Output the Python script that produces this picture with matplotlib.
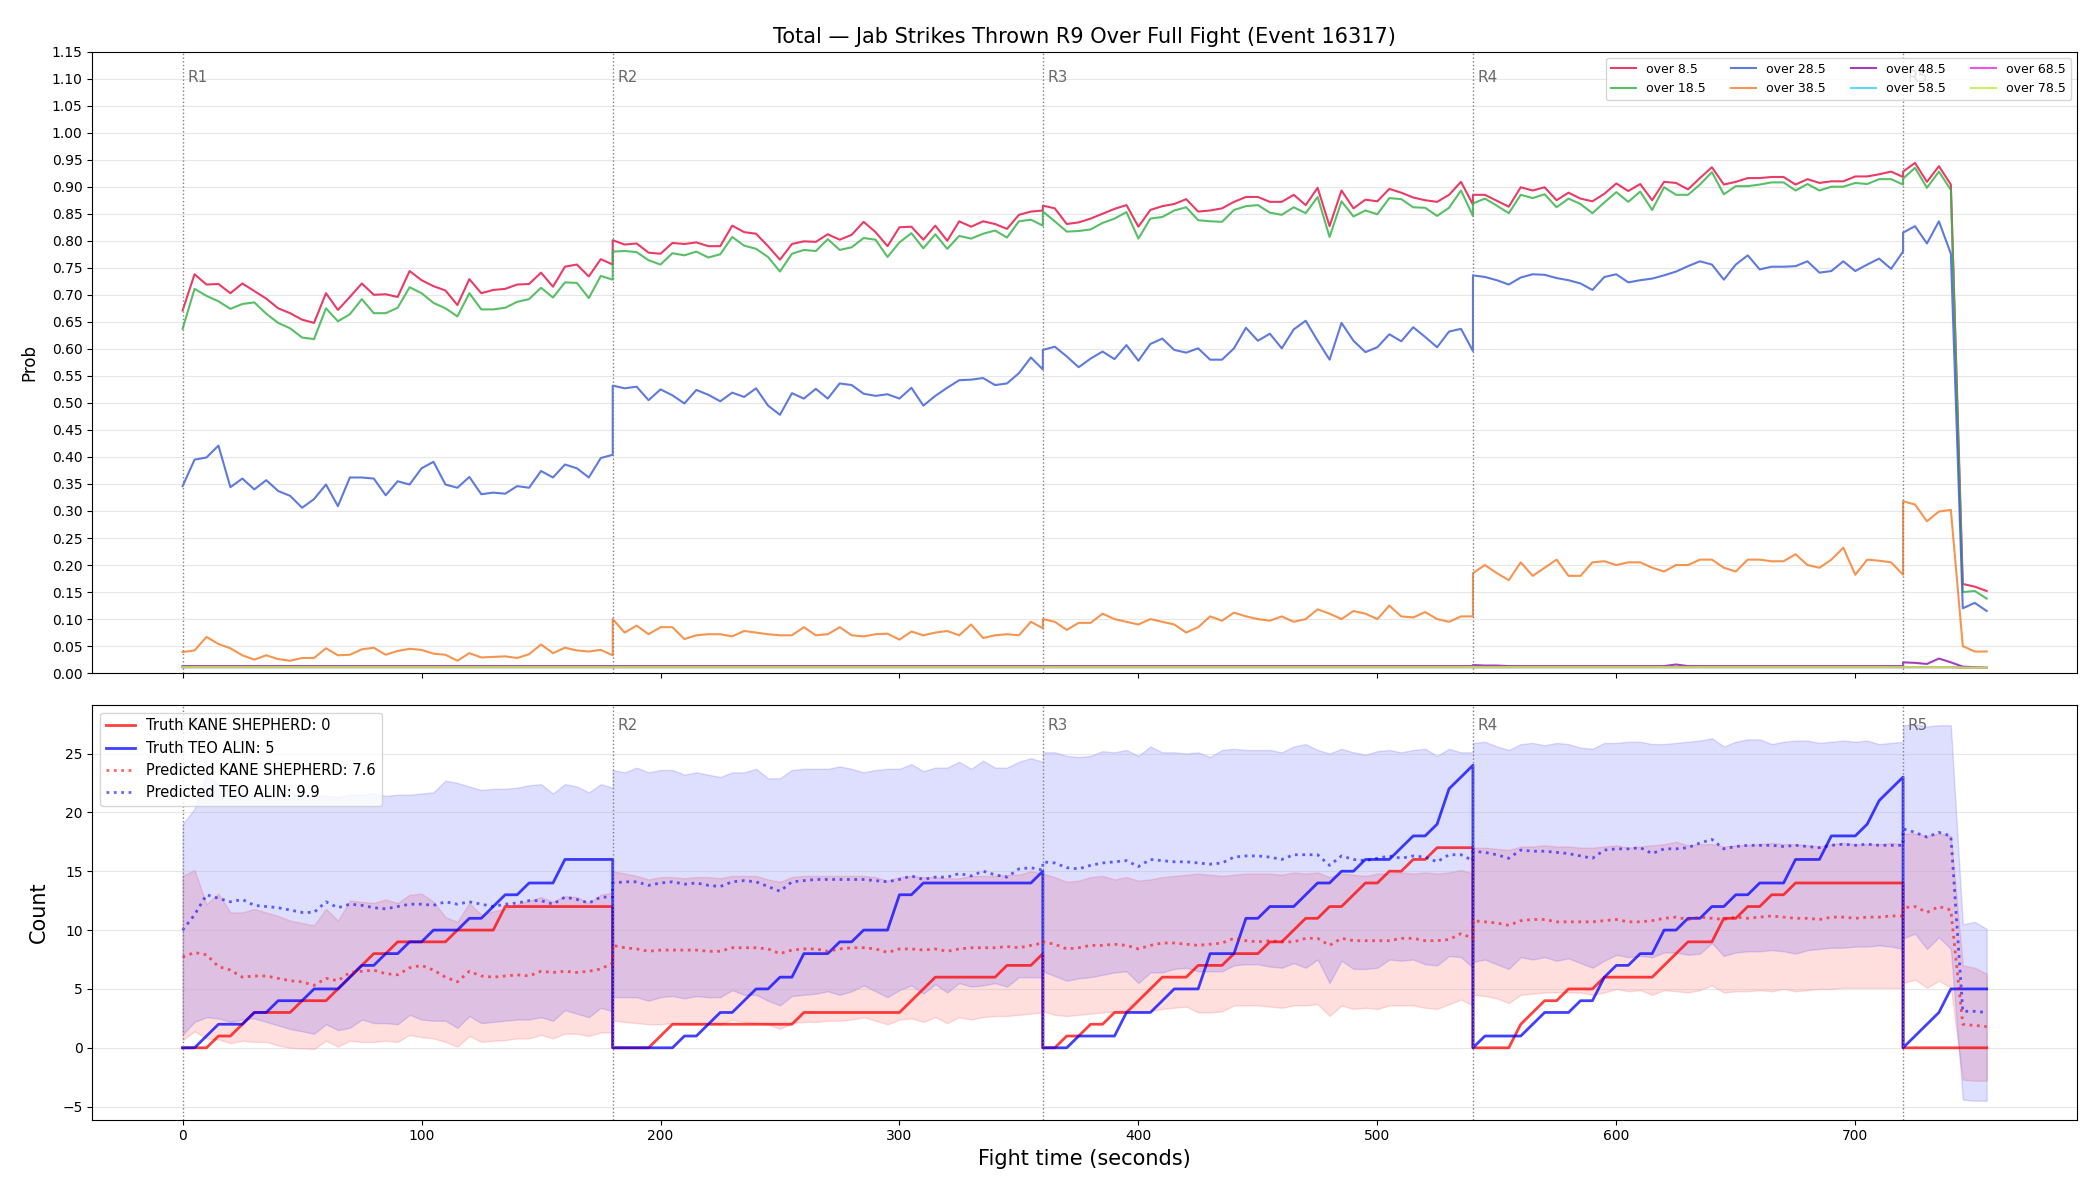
import numpy as np
import matplotlib.pyplot as plt
from matplotlib.transforms import blended_transform_factory

# samples every 5 s, each round restarts at its boundary (duplicate x at boundaries)
round_starts = [0, 180, 360, 540, 720]
round_samples = [37, 37, 37, 37, 8]
round_names = ["R1", "R2", "R3", "R4", "R5"]

# ---- top panel: P(over line) per round ----
over_8_5 = [
    [0.671, 0.738, 0.719, 0.720, 0.703, 0.721, 0.707, 0.693, 0.675, 0.666, 0.654, 0.648, 0.703,
     0.672, 0.696, 0.721, 0.700, 0.701, 0.696, 0.744, 0.727, 0.716, 0.708, 0.681, 0.729, 0.703,
     0.709, 0.711, 0.719, 0.720, 0.741, 0.715, 0.752, 0.756, 0.734, 0.766, 0.756],
    [0.801, 0.793, 0.795, 0.778, 0.776, 0.796, 0.794, 0.797, 0.790, 0.790, 0.828, 0.816, 0.813,
     0.790, 0.765, 0.794, 0.799, 0.798, 0.812, 0.802, 0.811, 0.835, 0.816, 0.790, 0.825, 0.826,
     0.802, 0.828, 0.800, 0.836, 0.826, 0.836, 0.831, 0.822, 0.848, 0.854, 0.856],
    [0.865, 0.860, 0.831, 0.834, 0.841, 0.850, 0.859, 0.866, 0.826, 0.857, 0.864, 0.868, 0.877,
     0.854, 0.856, 0.860, 0.872, 0.881, 0.881, 0.872, 0.872, 0.885, 0.866, 0.898, 0.827, 0.893,
     0.860, 0.876, 0.873, 0.896, 0.889, 0.880, 0.875, 0.872, 0.885, 0.909, 0.867],
    [0.885, 0.885, 0.874, 0.863, 0.899, 0.893, 0.899, 0.875, 0.889, 0.878, 0.873, 0.887, 0.906,
     0.892, 0.905, 0.875, 0.909, 0.907, 0.895, 0.916, 0.936, 0.904, 0.909, 0.916, 0.916, 0.918,
     0.918, 0.904, 0.914, 0.907, 0.910, 0.910, 0.919, 0.919, 0.923, 0.928, 0.918],
    [0.928, 0.944, 0.909, 0.938, 0.904, 0.165, 0.160, 0.152],
]
over_18_5 = [
    [0.637, 0.711, 0.698, 0.688, 0.674, 0.683, 0.686, 0.665, 0.648, 0.638, 0.621, 0.618, 0.675,
     0.651, 0.664, 0.692, 0.666, 0.666, 0.676, 0.714, 0.703, 0.685, 0.675, 0.660, 0.703, 0.673,
     0.673, 0.676, 0.687, 0.692, 0.713, 0.695, 0.723, 0.722, 0.694, 0.735, 0.728],
    [0.780, 0.781, 0.779, 0.764, 0.756, 0.777, 0.773, 0.780, 0.769, 0.775, 0.807, 0.791, 0.785,
     0.770, 0.743, 0.776, 0.783, 0.781, 0.803, 0.783, 0.788, 0.805, 0.802, 0.770, 0.797, 0.814,
     0.786, 0.812, 0.785, 0.809, 0.804, 0.813, 0.819, 0.806, 0.836, 0.839, 0.828],
    [0.854, 0.836, 0.817, 0.818, 0.821, 0.833, 0.841, 0.853, 0.804, 0.841, 0.844, 0.856, 0.862,
     0.838, 0.836, 0.835, 0.857, 0.864, 0.866, 0.852, 0.848, 0.862, 0.851, 0.881, 0.807, 0.873,
     0.845, 0.856, 0.849, 0.879, 0.877, 0.862, 0.861, 0.846, 0.861, 0.893, 0.846],
    [0.869, 0.878, 0.865, 0.851, 0.885, 0.879, 0.886, 0.862, 0.878, 0.868, 0.851, 0.871, 0.890,
     0.872, 0.891, 0.857, 0.899, 0.885, 0.885, 0.904, 0.927, 0.886, 0.901, 0.901, 0.904, 0.908,
     0.908, 0.893, 0.905, 0.893, 0.900, 0.900, 0.907, 0.905, 0.914, 0.914, 0.904],
    [0.915, 0.935, 0.898, 0.928, 0.894, 0.150, 0.152, 0.138],
]
over_28_5 = [
    [0.346, 0.395, 0.399, 0.421, 0.344, 0.360, 0.340, 0.357, 0.337, 0.328, 0.306, 0.322, 0.349,
     0.309, 0.362, 0.362, 0.360, 0.329, 0.355, 0.349, 0.379, 0.391, 0.349, 0.343, 0.363, 0.331,
     0.334, 0.332, 0.346, 0.343, 0.374, 0.362, 0.386, 0.379, 0.362, 0.398, 0.404],
    [0.532, 0.527, 0.530, 0.505, 0.525, 0.514, 0.499, 0.524, 0.515, 0.503, 0.519, 0.511, 0.527,
     0.495, 0.478, 0.518, 0.508, 0.526, 0.508, 0.536, 0.533, 0.517, 0.513, 0.516, 0.508, 0.528,
     0.495, 0.513, 0.528, 0.542, 0.543, 0.546, 0.533, 0.536, 0.555, 0.584, 0.562],
    [0.598, 0.604, 0.586, 0.566, 0.582, 0.595, 0.581, 0.607, 0.578, 0.609, 0.619, 0.598, 0.593,
     0.601, 0.580, 0.580, 0.601, 0.639, 0.615, 0.628, 0.601, 0.636, 0.652, 0.615, 0.580, 0.648,
     0.615, 0.594, 0.603, 0.627, 0.614, 0.640, 0.622, 0.603, 0.632, 0.637, 0.596],
    [0.736, 0.733, 0.727, 0.719, 0.732, 0.738, 0.737, 0.731, 0.727, 0.721, 0.709, 0.733, 0.738,
     0.723, 0.727, 0.730, 0.736, 0.743, 0.753, 0.762, 0.756, 0.728, 0.756, 0.773, 0.747, 0.752,
     0.752, 0.753, 0.762, 0.741, 0.744, 0.762, 0.744, 0.756, 0.767, 0.748, 0.780],
    [0.815, 0.827, 0.795, 0.836, 0.776, 0.120, 0.130, 0.115],
]
over_38_5 = [
    [0.039, 0.042, 0.067, 0.054, 0.046, 0.033, 0.025, 0.033, 0.026, 0.023, 0.028, 0.028, 0.046,
     0.033, 0.034, 0.044, 0.047, 0.034, 0.041, 0.045, 0.043, 0.036, 0.034, 0.023, 0.037, 0.029,
     0.030, 0.031, 0.028, 0.035, 0.053, 0.037, 0.047, 0.042, 0.040, 0.043, 0.033],
    [0.100, 0.075, 0.088, 0.072, 0.085, 0.085, 0.063, 0.070, 0.072, 0.072, 0.068, 0.078, 0.075,
     0.072, 0.070, 0.070, 0.085, 0.070, 0.072, 0.085, 0.070, 0.068, 0.072, 0.073, 0.062, 0.077,
     0.070, 0.075, 0.078, 0.070, 0.090, 0.065, 0.070, 0.072, 0.070, 0.095, 0.083],
    [0.100, 0.095, 0.080, 0.093, 0.093, 0.110, 0.100, 0.095, 0.090, 0.100, 0.095, 0.090, 0.075,
     0.085, 0.105, 0.097, 0.112, 0.105, 0.100, 0.097, 0.105, 0.095, 0.100, 0.118, 0.110, 0.100,
     0.115, 0.110, 0.100, 0.125, 0.105, 0.103, 0.113, 0.100, 0.095, 0.105, 0.105],
    [0.185, 0.200, 0.185, 0.172, 0.205, 0.180, 0.195, 0.210, 0.180, 0.180, 0.205, 0.207, 0.200,
     0.205, 0.205, 0.195, 0.188, 0.200, 0.200, 0.210, 0.210, 0.195, 0.188, 0.210, 0.210, 0.207,
     0.207, 0.220, 0.200, 0.195, 0.210, 0.232, 0.182, 0.210, 0.208, 0.205, 0.182],
    [0.318, 0.312, 0.281, 0.299, 0.302, 0.050, 0.040, 0.040],
]
over_48_5 = [
    [0.013, 0.013, 0.013, 0.013, 0.013, 0.013, 0.013, 0.013, 0.013, 0.013, 0.013, 0.013, 0.013,
     0.013, 0.013, 0.013, 0.013, 0.013, 0.013, 0.013, 0.013, 0.013, 0.013, 0.013, 0.013, 0.013,
     0.013, 0.013, 0.013, 0.013, 0.013, 0.013, 0.013, 0.013, 0.013, 0.013, 0.013],
    [0.013, 0.013, 0.013, 0.013, 0.013, 0.013, 0.013, 0.013, 0.013, 0.013, 0.013, 0.013, 0.013,
     0.013, 0.013, 0.013, 0.013, 0.013, 0.013, 0.013, 0.013, 0.013, 0.013, 0.013, 0.013, 0.013,
     0.013, 0.013, 0.013, 0.013, 0.013, 0.013, 0.013, 0.013, 0.013, 0.013, 0.013],
    [0.013, 0.013, 0.013, 0.013, 0.013, 0.013, 0.013, 0.013, 0.013, 0.013, 0.013, 0.013, 0.013,
     0.013, 0.013, 0.013, 0.013, 0.013, 0.013, 0.013, 0.013, 0.013, 0.013, 0.013, 0.013, 0.013,
     0.013, 0.013, 0.013, 0.013, 0.013, 0.013, 0.013, 0.013, 0.013, 0.013, 0.013],
    [0.015, 0.014, 0.014, 0.013, 0.013, 0.013, 0.013, 0.013, 0.013, 0.013, 0.013, 0.013, 0.013,
     0.013, 0.013, 0.013, 0.013, 0.016, 0.013, 0.013, 0.013, 0.013, 0.013, 0.013, 0.013, 0.013,
     0.013, 0.013, 0.013, 0.013, 0.013, 0.013, 0.013, 0.013, 0.013, 0.013, 0.013],
    [0.020, 0.019, 0.017, 0.027, 0.020, 0.012, 0.011, 0.010],
]
over_58_5 = [
    [0.011, 0.011, 0.011, 0.011, 0.011, 0.011, 0.011, 0.011, 0.011, 0.011, 0.011, 0.011, 0.011,
     0.011, 0.011, 0.011, 0.011, 0.011, 0.011, 0.011, 0.011, 0.011, 0.011, 0.011, 0.011, 0.011,
     0.011, 0.011, 0.011, 0.011, 0.011, 0.011, 0.011, 0.011, 0.011, 0.011, 0.011],
    [0.011, 0.011, 0.011, 0.011, 0.011, 0.011, 0.011, 0.011, 0.011, 0.011, 0.011, 0.011, 0.011,
     0.011, 0.011, 0.011, 0.011, 0.011, 0.011, 0.011, 0.011, 0.011, 0.011, 0.011, 0.011, 0.011,
     0.011, 0.011, 0.011, 0.011, 0.011, 0.011, 0.011, 0.011, 0.011, 0.011, 0.011],
    [0.011, 0.011, 0.011, 0.011, 0.011, 0.011, 0.011, 0.011, 0.011, 0.011, 0.011, 0.011, 0.011,
     0.011, 0.011, 0.011, 0.011, 0.011, 0.011, 0.011, 0.011, 0.011, 0.011, 0.011, 0.011, 0.011,
     0.011, 0.011, 0.011, 0.011, 0.011, 0.011, 0.011, 0.011, 0.011, 0.011, 0.011],
    [0.011, 0.011, 0.011, 0.011, 0.011, 0.011, 0.011, 0.011, 0.011, 0.011, 0.011, 0.011, 0.011,
     0.011, 0.011, 0.011, 0.011, 0.011, 0.011, 0.011, 0.011, 0.011, 0.011, 0.011, 0.011, 0.011,
     0.011, 0.011, 0.011, 0.011, 0.011, 0.011, 0.011, 0.011, 0.011, 0.011, 0.011],
    [0.011, 0.011, 0.011, 0.011, 0.011, 0.010, 0.010, 0.010],
]
over_68_5 = [
    [0.011, 0.011, 0.011, 0.011, 0.011, 0.011, 0.011, 0.011, 0.011, 0.011, 0.011, 0.011, 0.011,
     0.011, 0.011, 0.011, 0.011, 0.011, 0.011, 0.011, 0.011, 0.011, 0.011, 0.011, 0.011, 0.011,
     0.011, 0.011, 0.011, 0.011, 0.011, 0.011, 0.011, 0.011, 0.011, 0.011, 0.011],
    [0.011, 0.011, 0.011, 0.011, 0.011, 0.011, 0.011, 0.011, 0.011, 0.011, 0.011, 0.011, 0.011,
     0.011, 0.011, 0.011, 0.011, 0.011, 0.011, 0.011, 0.011, 0.011, 0.011, 0.011, 0.011, 0.011,
     0.011, 0.011, 0.011, 0.011, 0.011, 0.011, 0.011, 0.011, 0.011, 0.011, 0.011],
    [0.011, 0.011, 0.011, 0.011, 0.011, 0.011, 0.011, 0.011, 0.011, 0.011, 0.011, 0.011, 0.011,
     0.011, 0.011, 0.011, 0.011, 0.011, 0.011, 0.011, 0.011, 0.011, 0.011, 0.011, 0.011, 0.011,
     0.011, 0.011, 0.011, 0.011, 0.011, 0.011, 0.011, 0.011, 0.011, 0.011, 0.011],
    [0.011, 0.011, 0.011, 0.011, 0.011, 0.011, 0.011, 0.011, 0.011, 0.011, 0.011, 0.011, 0.011,
     0.011, 0.011, 0.011, 0.011, 0.011, 0.011, 0.011, 0.011, 0.011, 0.011, 0.011, 0.011, 0.011,
     0.011, 0.011, 0.011, 0.011, 0.011, 0.011, 0.011, 0.011, 0.011, 0.011, 0.011],
    [0.011, 0.011, 0.011, 0.011, 0.011, 0.010, 0.010, 0.010],
]
over_78_5 = [
    [0.011, 0.011, 0.011, 0.011, 0.011, 0.011, 0.011, 0.011, 0.011, 0.011, 0.011, 0.011, 0.011,
     0.011, 0.011, 0.011, 0.011, 0.011, 0.011, 0.011, 0.011, 0.011, 0.011, 0.011, 0.011, 0.011,
     0.011, 0.011, 0.011, 0.011, 0.011, 0.011, 0.011, 0.011, 0.011, 0.011, 0.011],
    [0.011, 0.011, 0.011, 0.011, 0.011, 0.011, 0.011, 0.011, 0.011, 0.011, 0.011, 0.011, 0.011,
     0.011, 0.011, 0.011, 0.011, 0.011, 0.011, 0.011, 0.011, 0.011, 0.011, 0.011, 0.011, 0.011,
     0.011, 0.011, 0.011, 0.011, 0.011, 0.011, 0.011, 0.011, 0.011, 0.011, 0.011],
    [0.011, 0.011, 0.011, 0.011, 0.011, 0.011, 0.011, 0.011, 0.011, 0.011, 0.011, 0.011, 0.011,
     0.011, 0.011, 0.011, 0.011, 0.011, 0.011, 0.011, 0.011, 0.011, 0.011, 0.011, 0.011, 0.011,
     0.011, 0.011, 0.011, 0.011, 0.011, 0.011, 0.011, 0.011, 0.011, 0.011, 0.011],
    [0.011, 0.011, 0.011, 0.011, 0.011, 0.011, 0.011, 0.011, 0.011, 0.011, 0.011, 0.011, 0.011,
     0.011, 0.011, 0.011, 0.011, 0.011, 0.011, 0.011, 0.011, 0.011, 0.011, 0.011, 0.011, 0.011,
     0.011, 0.011, 0.011, 0.011, 0.011, 0.011, 0.011, 0.011, 0.011, 0.011, 0.011],
    [0.011, 0.011, 0.011, 0.011, 0.011, 0.010, 0.010, 0.010],
]

line_labels = ["over 8.5", "over 18.5", "over 28.5", "over 38.5",
               "over 48.5", "over 58.5", "over 68.5", "over 78.5"]
line_colors = ["#e6194b", "#3cb44b", "#4363d8", "#f58231",
               "#911eb4", "#42d4f4", "#f032e6", "#bfef45"]

# ---- bottom panel: cumulative counts per round ----
truth_kane = [
    [0, 0, 0, 1, 1, 2, 3, 3, 3, 3, 4, 4, 4, 5, 6, 7, 8, 8, 9, 9, 9, 9, 9, 10, 10, 10, 10,
     12, 12, 12, 12, 12, 12, 12, 12, 12, 12],
    [0, 0, 0, 0, 1, 2, 2, 2, 2, 2, 2, 2, 2, 2, 2, 2, 3, 3, 3, 3, 3, 3, 3, 3, 3, 4, 5, 6,
     6, 6, 6, 6, 6, 7, 7, 7, 8],
    [0, 0, 1, 1, 2, 2, 3, 3, 4, 5, 6, 6, 6, 7, 7, 7, 8, 8, 8, 9, 9, 10, 11, 11, 12, 12, 13,
     14, 14, 15, 15, 16, 16, 17, 17, 17, 17],
    [0, 0, 0, 0, 2, 3, 4, 4, 5, 5, 5, 6, 6, 6, 6, 6, 7, 8, 9, 9, 9, 11, 11, 12, 12, 13, 13,
     14, 14, 14, 14, 14, 14, 14, 14, 14, 14],
    [0, 0, 0, 0, 0, 0, 0, 0],
]
truth_teo = [
    [0, 0, 1, 2, 2, 2, 3, 3, 4, 4, 4, 5, 5, 5, 6, 7, 7, 8, 8, 9, 9, 10, 10, 10, 11, 11, 12,
     13, 13, 14, 14, 14, 16, 16, 16, 16, 16],
    [0, 0, 0, 0, 0, 0, 1, 1, 2, 3, 3, 4, 5, 5, 6, 6, 8, 8, 8, 9, 9, 10, 10, 10, 13, 13, 14,
     14, 14, 14, 14, 14, 14, 14, 14, 14, 15],
    [0, 0, 0, 1, 1, 1, 1, 3, 3, 3, 4, 5, 5, 5, 8, 8, 8, 11, 11, 12, 12, 12, 13, 14, 14, 15,
     15, 16, 16, 16, 17, 18, 18, 19, 22, 23, 24],
    [0, 1, 1, 1, 1, 2, 3, 3, 3, 4, 4, 6, 7, 7, 8, 8, 10, 10, 11, 11, 12, 12, 13, 13, 14, 14,
     14, 16, 16, 16, 18, 18, 18, 19, 21, 22, 23],
    [0, 1, 2, 3, 5, 5, 5, 5],
]
pred_kane = [
    [7.7, 8.1, 7.9, 6.9, 6.6, 6.0, 6.1, 6.1, 5.9, 5.7, 5.6, 5.3, 5.9, 5.7, 6.4, 6.5, 6.6, 6.3,
     6.2, 6.8, 7.0, 6.6, 6.0, 5.6, 6.5, 6.1, 6.0, 6.1, 6.2, 6.1, 6.5, 6.4, 6.5, 6.4, 6.5, 6.7, 7.2],
    [8.7, 8.5, 8.4, 8.2, 8.3, 8.3, 8.3, 8.3, 8.2, 8.2, 8.5, 8.5, 8.5, 8.4, 8.0, 8.3, 8.4, 8.4,
     8.2, 8.4, 8.5, 8.5, 8.4, 8.1, 8.4, 8.4, 8.3, 8.4, 8.2, 8.4, 8.5, 8.5, 8.5, 8.6, 8.5, 8.7, 8.9],
    [9.0, 8.8, 8.4, 8.5, 8.7, 8.7, 8.8, 8.7, 8.4, 8.7, 8.9, 8.9, 8.8, 8.7, 8.8, 8.9, 9.3, 9.1,
     9.0, 9.1, 9.0, 9.0, 9.3, 9.3, 8.7, 9.3, 9.1, 9.1, 9.1, 9.1, 9.3, 9.3, 9.1, 9.1, 9.2, 9.7, 9.3],
    [10.8, 10.7, 10.6, 10.4, 10.8, 10.9, 10.9, 10.7, 10.7, 10.7, 10.7, 10.8, 10.9, 10.7, 10.7,
     10.8, 11.0, 11.1, 10.9, 11.1, 11.0, 10.9, 11.1, 11.0, 11.1, 11.2, 11.1, 11.0, 11.0, 10.9,
     11.1, 11.1, 11.0, 11.1, 11.1, 11.2, 11.2],
    [11.9, 12.0, 11.5, 12.0, 11.7, 2.0, 1.9, 1.8],
]
pred_teo = [
    [10.0, 11.3, 13.0, 12.7, 12.4, 12.6, 12.1, 12.0, 11.9, 11.7, 11.5, 11.5, 12.4, 11.9, 12.2,
     12.1, 11.9, 11.8, 12.0, 12.2, 12.2, 12.1, 12.4, 12.2, 12.4, 12.2, 12.0, 12.2, 12.3, 12.5,
     12.5, 12.2, 12.8, 12.6, 12.3, 12.8, 12.8],
    [14.0, 14.1, 14.1, 13.8, 14.0, 14.1, 13.9, 14.0, 13.8, 13.7, 14.1, 14.2, 14.1, 13.7, 13.3,
     14.1, 14.2, 14.3, 14.3, 14.3, 14.3, 14.3, 14.2, 14.1, 14.3, 14.6, 14.3, 14.5, 14.5, 14.8,
     14.6, 15.0, 14.7, 14.5, 15.2, 15.3, 15.1],
    [15.8, 15.7, 15.3, 15.2, 15.5, 15.7, 15.8, 15.9, 15.4, 16.0, 15.9, 15.8, 15.8, 15.7, 15.6,
     15.7, 16.2, 16.3, 16.3, 16.2, 16.0, 16.4, 16.4, 16.4, 15.5, 16.3, 16.0, 15.9, 16.1, 16.3,
     16.1, 16.3, 16.2, 15.8, 16.4, 16.4, 15.9],
    [16.7, 16.6, 16.4, 16.1, 16.8, 16.7, 16.7, 16.6, 16.5, 16.3, 16.1, 16.8, 16.9, 16.9, 17.0,
     16.5, 16.9, 16.9, 17.0, 17.4, 17.7, 16.9, 17.1, 17.2, 17.2, 17.2, 17.1, 17.2, 17.1, 17.0,
     17.2, 17.3, 17.2, 17.3, 17.2, 17.2, 17.2],
    [18.6, 18.3, 17.9, 18.3, 18.0, 3.1, 3.1, 3.0],
]
kane_lo = [
    [0.65, 1.4, 0.8, 0.7, 0.4, 0.6, 0.5, 0.5, 0.2, 0.0, -0.05, -0.1, 0.6, 0.1, 0.6, 0.5, 0.5,
     0.6, 0.5, 1.1, 0.9, 0.8, 0.5, 0.1, 1.0, 0.5, 0.6, 0.65, 0.8, 0.8, 1.1, 0.8, 1.2, 1.2, 1.0,
     1.3, 1.3],
    [2.3, 2.2, 2.1, 2.0, 2.0, 2.1, 2.0, 2.0, 2.1, 2.0, 2.4, 2.2, 2.1, 2.0, 1.6, 2.1, 2.2, 2.2,
     2.3, 2.3, 2.4, 2.6, 2.3, 2.0, 2.4, 2.5, 2.2, 2.6, 2.1, 2.6, 2.4, 2.6, 2.7, 2.7, 2.8, 2.9, 3.0],
    [3.1, 2.8, 2.7, 2.8, 2.9, 3.0, 3.1, 3.2, 3.0, 3.1, 3.3, 3.4, 3.5, 3.0, 3.0, 3.1, 3.6, 3.6,
     3.6, 3.5, 3.4, 3.6, 3.6, 3.7, 2.7, 3.6, 3.3, 3.4, 3.3, 3.6, 3.6, 3.6, 3.4, 3.3, 3.7, 4.1, 3.6],
    [4.5, 4.4, 4.2, 3.8, 4.5, 4.6, 4.7, 4.7, 4.7, 4.7, 4.5, 4.7, 5.0, 4.8, 4.9, 4.5, 4.9, 4.8,
     4.7, 4.9, 5.3, 4.7, 4.8, 4.8, 4.9, 4.8, 5.0, 4.8, 4.9, 5.0, 5.0, 5.1, 5.1, 5.1, 5.1, 5.1, 5.1],
    [5.5, 5.8, 5.1, 5.7, 5.1, -2.7, -2.8, -2.8],
]
kane_hi = [
    [14.6, 15.1, 12.2, 13.1, 11.5, 11.5, 11.8, 11.5, 11.2, 10.8, 10.6, 10.4, 11.8, 10.8, 12.5,
     12.4, 12.3, 12.6, 12.3, 13.0, 13.1, 12.4, 11.1, 10.7, 12.3, 11.3, 11.6, 11.8, 12.2, 12.5,
     12.8, 12.4, 12.9, 12.8, 12.3, 13.0, 13.2],
    [15.0, 14.8, 14.6, 14.3, 14.5, 14.5, 14.4, 14.5, 14.5, 14.4, 14.6, 14.6, 14.6, 14.3, 14.1,
     14.5, 14.6, 14.6, 14.6, 14.6, 14.6, 14.6, 14.5, 14.2, 14.5, 14.6, 14.5, 14.5, 14.4, 14.4,
     14.6, 14.6, 14.6, 14.7, 14.7, 15.0, 14.8],
    [14.8, 14.5, 14.1, 14.2, 14.5, 14.6, 14.3, 14.5, 14.2, 14.3, 14.5, 14.6, 14.7, 14.8, 14.7,
     14.6, 14.7, 14.8, 14.8, 14.8, 14.7, 14.9, 14.8, 14.9, 14.5, 14.8, 14.7, 14.6, 14.8, 14.8,
     14.9, 14.8, 14.9, 14.8, 14.9, 15.1, 14.8],
    [17.0, 17.0, 16.9, 16.8, 17.1, 17.1, 17.2, 17.1, 17.1, 17.0, 17.0, 17.1, 17.2, 17.0, 17.1,
     17.2, 17.3, 17.5, 17.2, 17.3, 17.3, 17.1, 17.2, 17.2, 17.3, 17.4, 17.3, 17.3, 17.2, 17.1,
     17.3, 17.4, 17.3, 17.3, 17.3, 17.4, 17.3],
    [18.2, 18.2, 18.0, 18.2, 18.0, 7.0, 6.8, 6.3],
]
teo_lo = [
    [1.1, 2.2, 2.6, 2.5, 2.2, 2.4, 2.5, 2.2, 1.9, 1.6, 1.4, 1.2, 2.0, 1.5, 1.7, 2.4, 2.1, 2.1,
     2.0, 2.8, 2.4, 2.3, 2.3, 1.7, 2.7, 2.1, 2.2, 2.3, 2.4, 2.4, 2.6, 2.3, 3.2, 2.9, 2.6, 3.4, 3.1],
    [4.3, 4.3, 4.3, 4.0, 4.3, 4.4, 4.2, 4.4, 4.3, 4.3, 4.9, 4.5, 4.5, 4.0, 3.6, 4.4, 4.5, 4.6,
     4.8, 4.5, 4.8, 5.3, 4.8, 4.3, 4.9, 5.3, 4.6, 5.4, 4.7, 5.5, 5.2, 5.3, 5.5, 5.2, 6.0, 6.0, 6.0],
    [6.5, 6.1, 5.7, 5.9, 6.0, 6.2, 6.4, 6.5, 5.5, 6.4, 6.4, 6.7, 6.8, 6.5, 6.5, 6.5, 7.0, 7.1,
     7.1, 6.9, 6.8, 7.2, 6.8, 7.5, 5.5, 7.4, 6.7, 6.7, 6.8, 7.5, 7.4, 7.5, 7.1, 7.0, 7.8, 7.7, 6.8],
    [7.3, 7.5, 7.1, 6.7, 7.7, 7.5, 7.7, 7.4, 7.6, 7.2, 6.8, 7.4, 7.9, 7.7, 7.8, 7.7, 8.1, 8.1,
     7.9, 8.0, 8.9, 7.8, 8.1, 8.2, 8.2, 8.3, 8.2, 8.0, 8.3, 8.4, 8.5, 8.5, 8.6, 8.6, 8.7, 8.6, 8.4],
    [9.3, 9.7, 8.4, 9.4, 8.4, -4.4, -4.5, -4.5],
]
teo_hi = [
    [19.0, 20.3, 23.2, 22.4, 21.6, 21.4, 21.5, 21.3, 21.4, 21.6, 21.3, 21.5, 21.4, 21.3, 21.5,
     21.5, 21.6, 21.4, 21.5, 21.5, 21.6, 21.7, 22.7, 22.5, 22.2, 21.9, 22.0, 22.0, 22.1, 22.3,
     22.4, 21.6, 22.4, 22.2, 21.7, 22.4, 22.1],
    [23.6, 23.4, 23.8, 23.4, 23.6, 23.6, 23.2, 23.4, 23.2, 23.0, 23.4, 23.4, 23.7, 22.9, 22.9,
     23.6, 23.7, 23.7, 23.7, 23.9, 23.7, 23.4, 23.6, 23.7, 23.7, 24.1, 23.5, 23.8, 23.8, 24.3,
     23.7, 24.4, 23.8, 23.8, 24.3, 24.6, 24.3],
    [25.1, 25.1, 24.8, 24.7, 24.8, 25.2, 25.1, 25.3, 24.8, 25.6, 25.1, 25.1, 25.0, 25.1, 24.7,
     25.3, 25.4, 25.3, 25.3, 25.3, 25.1, 25.6, 25.8, 25.3, 25.0, 25.4, 25.1, 24.9, 25.2, 25.3,
     25.1, 25.3, 25.4, 24.8, 25.4, 25.1, 25.1],
    [25.9, 26.0, 25.6, 25.3, 25.8, 25.9, 25.7, 25.9, 25.8, 25.5, 25.4, 25.9, 25.9, 26.0, 26.0,
     25.8, 25.8, 25.9, 26.0, 26.1, 26.3, 25.6, 26.0, 26.2, 26.2, 25.8, 26.0, 26.1, 26.1, 25.9,
     26.0, 26.1, 26.0, 26.1, 25.8, 25.9, 26.0],
    [27.4, 27.5, 27.3, 27.4, 27.4, 10.5, 10.7, 10.1],
]


def flat(rounds):
    return np.concatenate([np.asarray(r, dtype=float) for r in rounds])


t = np.concatenate([s + 5 * np.arange(n) for s, n in zip(round_starts, round_samples)])

fig, (ax1, ax2) = plt.subplots(2, 1, figsize=(21, 12), dpi=100, sharex=True,
                               gridspec_kw={'height_ratios': [3, 2]})
fig.subplots_adjust(left=0.044, right=0.989, top=0.957, bottom=0.067, hspace=0.062)

# Top: probability of exceeding each line
series = [over_8_5, over_18_5, over_28_5, over_38_5, over_48_5, over_58_5, over_68_5, over_78_5]
for label, vals, color in zip(line_labels, series, line_colors):
    ax1.plot(t, flat(vals), color=color, linewidth=1.5, alpha=0.85, label=label)

ax1.set_ylim(0, 1.15)
ax1.set_yticks(np.arange(0, 1.151, 0.05))
ax1.yaxis.set_major_formatter('{x:.2f}')
ax1.set_ylabel('Prob', fontsize=12, labelpad=10)
ax1.grid(True, axis='y', alpha=0.3)
ax1.set_title('Total \u2014 Jab Strikes Thrown R9 Over Full Fight (Event 16317)', fontsize=15)
ax1.legend(loc='upper right', ncol=4, fontsize=9)

# Bottom: truth vs predicted counts
ax2.fill_between(t, flat(kane_lo), flat(kane_hi), color='red', alpha=0.13)
ax2.fill_between(t, flat(teo_lo), flat(teo_hi), color='blue', alpha=0.13)
ax2.plot(t, flat(truth_kane), color='red', linewidth=2, alpha=0.75, label='Truth KANE SHEPHERD: 0')
ax2.plot(t, flat(truth_teo), color='blue', linewidth=2, alpha=0.75, label='Truth TEO ALIN: 5')
ax2.plot(t, flat(pred_kane), color='red', linewidth=2, linestyle=':', alpha=0.6,
         label='Predicted KANE SHEPHERD: 7.6')
ax2.plot(t, flat(pred_teo), color='blue', linewidth=2, linestyle=':', alpha=0.6,
         label='Predicted TEO ALIN: 9.9')
ax2.set_ylabel('Count', fontsize=15, labelpad=10)
ax2.set_xlabel('Fight time (seconds)', fontsize=15)
ax2.grid(True, axis='y', alpha=0.3)
ax2.legend(loc='upper left', fontsize=10.5)

# Round markers
for ax in (ax1, ax2):
    trans = blended_transform_factory(ax.transData, ax.transAxes)
    for s, name in zip(round_starts, round_names):
        ax.axvline(s, color='gray', linestyle=':', linewidth=1)
        ax.text(s + 2, 0.97, name, transform=trans, va='top', ha='left',
                color='dimgray', fontsize=11)

fig.savefig('out.png', dpi=100)
